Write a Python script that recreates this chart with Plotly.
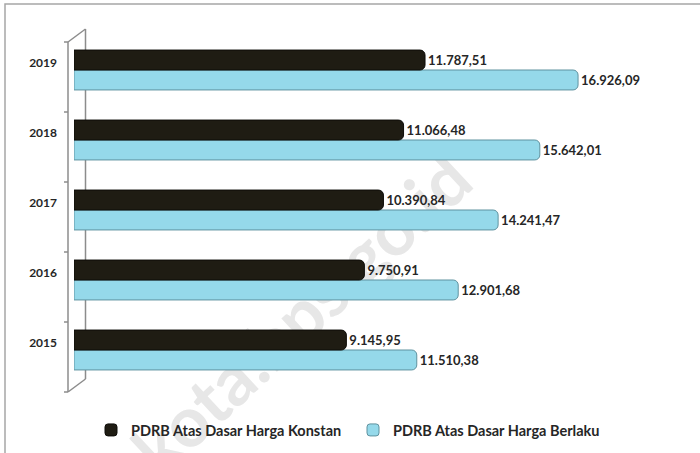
import plotly.graph_objects as go

years = ["2015", "2016", "2017", "2018", "2019"]
konstan = [9145.95, 9750.91, 10390.84, 11066.48, 11787.51]
berlaku = [11510.38, 12901.68, 14241.47, 15642.01, 16926.09]
name_konstan = "PDRB Atas Dasar Harga Konstan"
name_berlaku = "PDRB Atas Dasar Harga Berlaku"
watermark = "kota.bps.go.id"

# layout geometry (pixels)
WIDTH, HEIGHT = 700, 453
L, R, T, B = 74, 20, 35, 68
PW, PH = WIDTH - L - R, HEIGHT - T - B


def px_x(px):
    return (px - L) / PW


def px_y(py):
    return (T + PH - py) / PH


FONT = "Lato"
TXT = "#262626"

fig = go.Figure()
fig.add_trace(go.Bar(
    y=years, x=berlaku, orientation="h", name=name_berlaku,
    marker=dict(color="#95d9ea", line=dict(color="#5f929f", width=1), cornerradius=5),
    texttemplate="%{x:,.2f}", textposition="outside",
    textfont=dict(family=FONT, size=13, color=TXT, weight="bold"),
    cliponaxis=False, legendrank=2,
))
fig.add_trace(go.Bar(
    y=years, x=konstan, orientation="h", name=name_konstan,
    marker=dict(color="#1f1c13", line=dict(color="#0d0c08", width=1), cornerradius=5),
    texttemplate="%{x:,.2f}", textposition="outside",
    textfont=dict(family=FONT, size=13, color=TXT, weight="bold"),
    cliponaxis=False, legendrank=1,
))

shapes = []
# outer chart border (top and left visible)
shapes.append(dict(type="rect", xref="paper", yref="paper",
                   x0=px_x(5), x1=px_x(720), y0=px_y(470), y1=px_y(4),
                   line=dict(color="#a6a6a6", width=1.5), layer="below"))
# watermark
cx, cy = 300, 312
shapes.append(dict(type="rect", xref="paper", yref="paper",
                   x0=px_x(cx - 1), x1=px_x(cx + 1), y0=px_y(cy + 1), y1=px_y(cy - 1),
                   line=dict(width=0), layer="below",
                   label=dict(text=watermark, textangle=-43, textposition="middle center",
                              font=dict(family=FONT, size=70, color="#e7e7e7", weight="bold"))))
# 3D axis wall
ax_col = dict(color="#8c8c8c", width=1.5)
fx, bx = 68, 85.5
for (x0, y0, x1, y1) in [(fx, 42, fx, 392), (bx, 29, bx, 379), (fx, 42, bx, 29), (fx, 392, bx, 379)]:
    shapes.append(dict(type="line", xref="paper", yref="paper",
                       x0=px_x(x0), x1=px_x(x1), y0=px_y(y0), y1=px_y(y1),
                       line=ax_col, layer="below"))
for k in range(6):
    ty = 42 + 70 * k
    shapes.append(dict(type="line", xref="paper", yref="paper",
                       x0=px_x(64), x1=px_x(fx), y0=px_y(ty), y1=px_y(ty),
                       line=ax_col, layer="below"))

fig.update_layout(
    width=WIDTH, height=HEIGHT,
    margin=dict(l=L, r=R, t=T, b=B, pad=0, autoexpand=False),
    paper_bgcolor="white", plot_bgcolor="rgba(0,0,0,0)",
    barmode="group", bargap=0.43, bargroupgap=0,
    separators=",.",
    shapes=shapes,
    showlegend=True,
    legend=dict(orientation="h", x=px_x(91), xanchor="left", y=px_y(430), yanchor="middle",
                entrywidth=217,
                font=dict(family=FONT, size=14.5, color=TXT, weight="bold"),
                traceorder="normal", bgcolor="rgba(0,0,0,0)"),
    xaxis=dict(visible=False, range=[0, PW / 0.02978], fixedrange=True, automargin=False),
    yaxis=dict(type="category", categoryorder="array", categoryarray=years,
               range=[-0.5, 4.5], showline=False, showgrid=False, zeroline=False,
               automargin=False, fixedrange=True,
               ticks="", ticklabelstandoff=16, ticklabelshift=-7,
               tickfont=dict(family=FONT, size=12, color=TXT, weight="bold")),
    font=dict(family=FONT),
    hovermode=False,
)

fig.write_html("out.html", config={"displayModeBar": False, "staticPlot": True},
               post_script="document.body.style.margin='0';document.body.style.overflow='hidden';")
